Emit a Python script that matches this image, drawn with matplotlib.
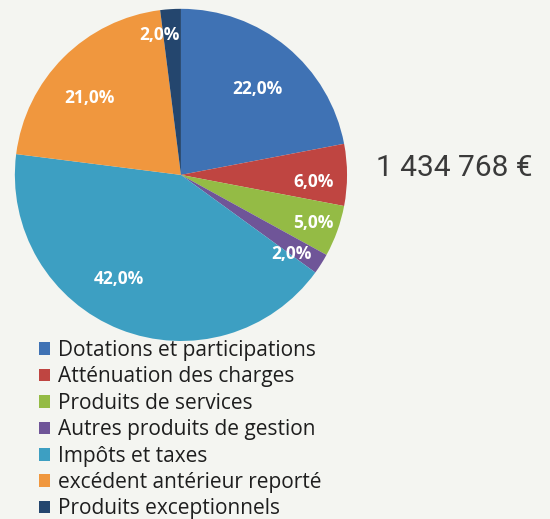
import numpy as np
import matplotlib
matplotlib.use("Agg")
import matplotlib.pyplot as plt

labels = ["Dotations et participations", "Atténuation des charges", "Produits de services",
          "Autres produits de gestion", "Impôts et taxes", "excédent antérieur reporté",
          "Produits exceptionnels"]
values = [22.0, 6.0, 5.0, 2.0, 42.0, 21.0, 2.0]
colors = ["#3f72b4", "#bf4541", "#94bb45", "#6f5598", "#3d9fc2", "#f0973e", "#24466e"]
total_text = "1 434 768 €"

# label placement: distance from centre (fraction of radius) and angle shift (deg)
label_dist = [0.69, 0.80, 0.85, 0.82, 0.73, 0.72, 0.85]
label_turn = [-2, -3, 0, -3, -9, 5, 5]

bg = "#f4f5f1"
fig = plt.figure(figsize=(5.5, 5.19), dpi=100, facecolor=bg)
ax = fig.add_axes([0.027, 0.343, 0.604, 0.640])
ax.set_facecolor(bg)

wedges, _ = ax.pie(values, colors=colors, startangle=90, counterclock=False,
                   wedgeprops=dict(linewidth=0))
ax.set_xlim(-1, 1)
ax.set_ylim(-1, 1)
ax.set_aspect("equal")

for w, v, d, t in zip(wedges, values, label_dist, label_turn):
    ang = np.deg2rad((w.theta1 + w.theta2) / 2 + t)
    ax.text(d * np.cos(ang), d * np.sin(ang), f"{v:.1f}%".replace(".", ","),
            ha="center", va="center", color="white", fontsize=12.5,
            fontweight="bold", family="Open Sans")

fig.text(0.684, 0.676, total_text, ha="left", va="center", fontsize=21.5,
         color="#3a3a3a", family="Roboto")

fig.legend(wedges, labels, loc="upper left", bbox_to_anchor=(0.07, 0.345),
           frameon=False, prop=dict(family="Open Sans", size=15),
           handlelength=0.55, handleheight=0.55, handletextpad=0.4,
           labelspacing=0.26, borderaxespad=0, borderpad=0, labelcolor="#1e1e1e")

fig.savefig("out.png", dpi=100, facecolor=bg)
